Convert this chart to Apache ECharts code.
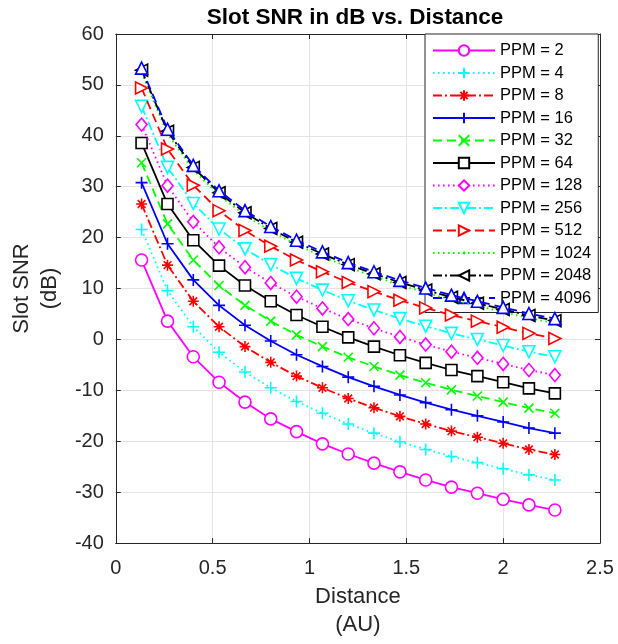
<!DOCTYPE html>
<html>
<head>
<meta charset="utf-8">
<script src="https://cdn.jsdelivr.net/npm/echarts@6/dist/echarts.min.js"></script>
<style>
html,body{margin:0;padding:0;background:#fff;}
#chart{width:618px;height:644px;}
</style>
</head>
<body>
<div id="chart"></div>
<script>
// ---- data ----
const distanceAU = [0.133, 0.267, 0.400, 0.533, 0.667, 0.800, 0.933, 1.067, 1.200, 1.333, 1.467, 1.600, 1.733, 1.867, 2.000, 2.133, 2.267];

const ppm2    = [15.6, 3.6, -3.4, -8.4, -12.3, -15.6, -18.1, -20.5, -22.5, -24.3, -26.0, -27.6, -29.0, -30.2, -31.4, -32.5, -33.5];
const ppm4    = [21.6, 9.6, 2.5, -2.5, -6.4, -9.5, -12.2, -14.5, -16.6, -18.4, -20.1, -21.6, -23.0, -24.2, -25.4, -26.6, -27.6];
const ppm8    = [26.6, 14.6, 7.5, 2.5, -1.4, -4.5, -7.2, -9.5, -11.6, -13.4, -15.1, -16.6, -18.0, -19.2, -20.4, -21.6, -22.6];
const ppm16   = [30.8, 18.8, 11.7, 6.7, 2.8, -0.3, -3.0, -5.3, -7.4, -9.2, -10.9, -12.4, -13.8, -15.0, -16.2, -17.4, -18.4];
const ppm32   = [34.7, 22.7, 15.6, 10.6, 6.7, 3.6, 0.9, -1.4, -3.5, -5.3, -7.0, -8.5, -9.9, -11.1, -12.3, -13.5, -14.5];
const ppm64   = [38.6, 26.6, 19.5, 14.5, 10.6, 7.5, 4.8, 2.5, 0.4, -1.4, -3.1, -4.6, -6.0, -7.2, -8.4, -9.6, -10.6];
const ppm128  = [42.2, 30.2, 23.1, 18.1, 14.2, 11.1, 8.4, 6.1, 4.0, 2.2, 0.5, -1.0, -2.4, -3.6, -4.8, -6.0, -7.0];
const ppm256  = [45.8, 33.8, 26.7, 21.7, 17.8, 14.7, 12.0, 9.7, 7.6, 5.8, 4.1, 2.6, 1.2, 0.0, -1.2, -2.4, -3.4];
const ppm512  = [49.4, 37.4, 30.3, 25.3, 21.4, 18.3, 15.6, 13.3, 11.2, 9.4, 7.7, 6.2, 4.8, 3.6, 2.4, 1.2, 0.2];
const ppm1024 = [52.4, 40.4, 33.3, 28.3, 24.4, 21.3, 18.6, 16.3, 14.2, 12.4, 10.7, 9.2, 7.8, 6.6, 5.4, 4.2, 3.2];
const ppm2048 = [52.9, 40.9, 33.8, 28.8, 24.9, 21.8, 19.1, 16.8, 14.7, 12.9, 11.2, 9.7, 8.3, 7.1, 5.9, 4.7, 3.7];
const ppm4096 = [53.3, 41.3, 34.2, 29.2, 25.3, 22.2, 19.5, 17.2, 15.1, 13.3, 11.6, 10.1, 8.7, 7.5, 6.3, 5.1, 4.1];

const seriesNames = ['PPM = 2', 'PPM = 4', 'PPM = 8', 'PPM = 16', 'PPM = 32', 'PPM = 64',
  'PPM = 128', 'PPM = 256', 'PPM = 512', 'PPM = 1024', 'PPM = 2048', 'PPM = 4096'];
const seriesValues = [ppm2, ppm4, ppm8, ppm16, ppm32, ppm64, ppm128, ppm256, ppm512, ppm1024, ppm2048, ppm4096];

const xTicks = [0, 0.5, 1, 1.5, 2, 2.5];
const yTicks = [-40, -30, -20, -10, 0, 10, 20, 30, 40, 50, 60];

// ---- styles ----
const FONT = 'Liberation Sans';
const TXT = '#262626';
const DASH = [9, 5], DOT = [1.6, 3.4], DASHDOT = [9, 3, 2, 3];
const SYM = {
  circle: 'path://M5,0A5,5 0 1,1 5,10A5,5 0 1,1 5,0Z',
  plus: 'path://M5,0L5,10M0,5L10,5',
  star: 'path://M5,0L5,10M0,5L10,5M1.5,1.5L8.5,8.5M8.5,1.5L1.5,8.5',
  cross: 'path://M0,0L10,10M10,0L0,10',
  square: 'path://M0,0L10,0L10,10L0,10Z',
  diamond: 'path://M5,0L10,5L5,10L0,5Z',
  down: 'path://M0,0L10,0L5,9Z',
  right: 'path://M0,0L9,5L0,10Z',
  left: 'path://M9,0L0,5L9,10Z',
  up: 'path://M5,0L10,9L0,9Z',
  // small dot inside an invisible 10x10 box so the legend keeps it small
  dot: 'path://M0,0L0,0M10,10L10,10M5,3.6A1.4,1.4 0 1,1 5,6.4A1.4,1.4 0 1,1 5,3.6Z'
};
const styles = [
  {c: '#ff00ff', t: 'solid', s: 'circle', z: 12},
  {c: '#00ffff', t: DOT, s: 'plus', z: 12},
  {c: '#ff0000', t: DASHDOT, s: 'star', z: 11},
  {c: '#0000ff', t: 'solid', s: 'plus', z: 12},
  {c: '#00ff00', t: DASH, s: 'cross', z: 9},
  {c: '#000000', t: 'solid', s: 'square', z: 11},
  {c: '#ff00ff', t: DOT, s: 'diamond', z: [11, 13]},
  {c: '#00ffff', t: DASHDOT, s: 'down', z: 12},
  {c: '#ff0000', t: DASH, s: 'right', z: 12},
  {c: '#00ff00', t: DOT, s: 'dot', z: 12, filled: true},
  {c: '#000000', t: DASHDOT, s: 'left', z: 12},
  {c: '#0000ff', t: DASH, s: 'up', z: 12}
];

const series = seriesNames.map((name, i) => {
  const st = styles[i];
  return {
    name: name,
    type: 'line',
    data: distanceAU.map((x, j) => [x, seriesValues[i][j]]),
    symbol: SYM[st.s],
    symbolSize: st.z,
    showSymbol: true,
    lineStyle: {color: st.c, width: 1.8, type: st.t},
    itemStyle: st.filled ? {color: st.c, borderWidth: 0}
                         : {color: '#fff', borderColor: st.c, borderWidth: 1.6},
    emphasis: {disabled: true},
    z: 2 + i
  };
});

const axisLineStyle = {onZero: false, lineStyle: {color: TXT, width: 1}};
const tickStyle = {inside: true, length: 5, lineStyle: {color: TXT}};
const chart = echarts.init(document.getElementById('chart'), null, {renderer: 'canvas'});
chart.setOption({
  animation: false,
  backgroundColor: '#fff',
  title: {
    text: 'Slot SNR in dB vs. Distance',
    left: 355, top: 6, padding: 0, textAlign: 'center',
    textStyle: {fontFamily: FONT, fontSize: 22.5, fontWeight: 'bold', color: '#000'}
  },
  grid: {left: 111, right: 18, top: 34, bottom: 99, containLabel: false},
  legend: {
    orient: 'vertical',
    left: 425, top: 34,
    data: seriesNames,
    itemWidth: 62, itemHeight: 13, itemGap: 5.5,
    padding: [8, 7, 6, 7],
    backgroundColor: '#fff',
    borderColor: TXT, borderWidth: 1,
    textStyle: {fontFamily: FONT, fontSize: 16.5, color: '#000', lineHeight: 16},
    selectedMode: false
  },
  xAxis: [{
    type: 'value', min: 0, max: 2.5, interval: 0.5,
    name: 'Distance\n(AU)', nameLocation: 'middle', nameGap: 39,
    nameTextStyle: {fontFamily: FONT, fontSize: 22, color: TXT, lineHeight: 28, verticalAlign: 'top'},
    axisLine: axisLineStyle,
    axisTick: tickStyle,
    axisLabel: {fontFamily: FONT, fontSize: 20, color: TXT, margin: 15,
      formatter: v => xTicks.indexOf(v) >= 0 ? String(v) : ''},
    splitLine: {show: true, lineStyle: {color: '#e3e3e3', width: 1}}
  }, {
    type: 'value', min: 0, max: 2.5, interval: 0.5, position: 'top',
    axisLine: axisLineStyle,
    axisTick: tickStyle,
    axisLabel: {show: false}, splitLine: {show: false}
  }],
  yAxis: [{
    type: 'value', min: -40, max: 60, interval: 10,
    name: 'Slot SNR\n(dB)', nameLocation: 'middle', nameGap: 50, nameRotate: 90,
    nameTextStyle: {fontFamily: FONT, fontSize: 22, color: TXT, lineHeight: 28},
    axisLine: axisLineStyle,
    axisTick: tickStyle,
    axisLabel: {fontFamily: FONT, fontSize: 20, color: TXT, margin: 12,
      formatter: v => yTicks.indexOf(v) >= 0 ? String(v) : ''},
    splitLine: {show: true, lineStyle: {color: '#e3e3e3', width: 1}}
  }, {
    type: 'value', min: -40, max: 60, interval: 10, position: 'right',
    axisLine: axisLineStyle,
    axisTick: tickStyle,
    axisLabel: {show: false}, splitLine: {show: false}
  }],
  series: series
});
</script>
</body>
</html>
